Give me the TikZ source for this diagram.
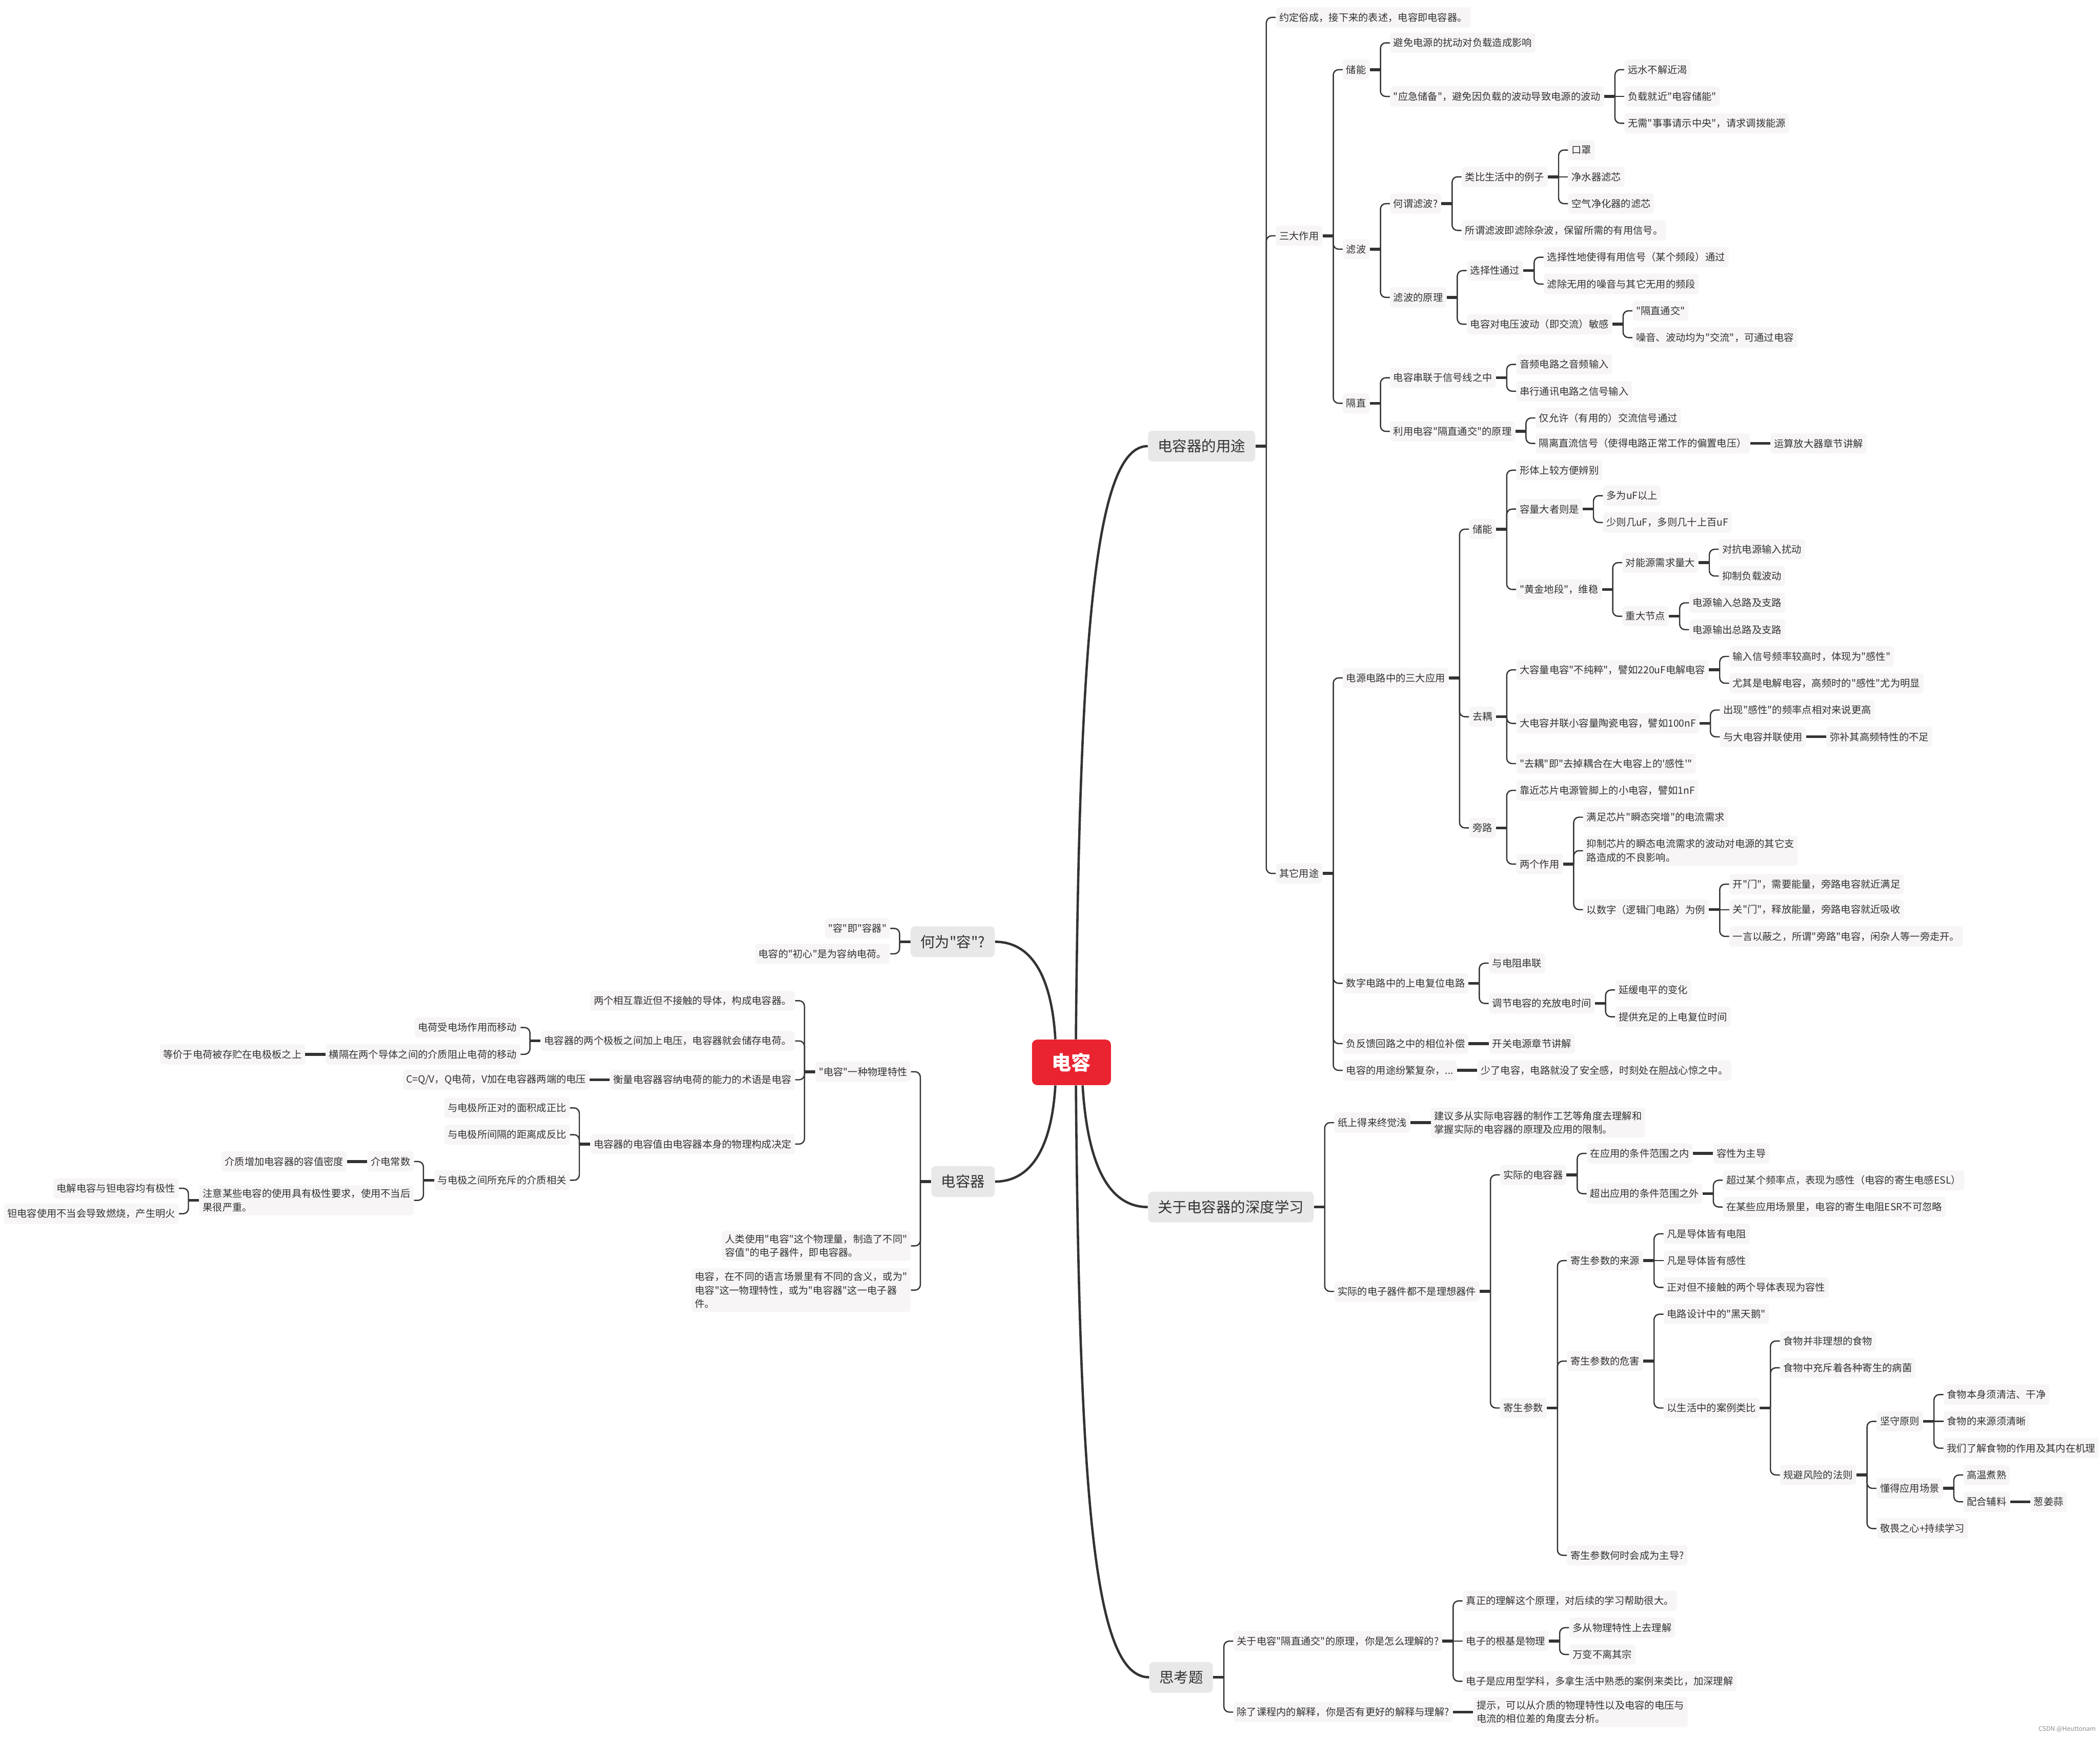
\documentclass[tikz,border=0pt]{standalone}
\usepackage{fontspec}
\setmainfont{Noto Sans CJK SC}[Ligatures=TeXOff]
\definecolor{leafc}{HTML}{F7F5F5}
\definecolor{mainc}{HTML}{E8E8E8}
\definecolor{linec}{HTML}{333333}
\definecolor{txt}{HTML}{333333}
\definecolor{rootc}{HTML}{E92430}
\tikzset{
  leaf/.style={fill=leafc, rounded corners=0.06cm, inner xsep=0.075cm, inner ysep=0.08cm,
    minimum height=0.45cm, font=\fontsize{6.3}{8.6}\selectfont, text=txt, align=left},
  mainb/.style={fill=mainc, rounded corners=0.1cm, inner xsep=0.22cm, inner ysep=0pt,
    minimum height=0.69cm, font=\fontsize{9.3}{11}\selectfont, text=txt},
  rootn/.style={fill=rootc, rounded corners=0.12cm, minimum width=1.77cm, minimum height=1.02cm,
    font=\fontsize{12.5}{14}\selectfont\bfseries, text=white},
  conn/.style={draw=linec, line width=0.8pt, rounded corners=0.12cm},
  stub/.style={draw=linec, line width=1.8pt},
  rootln/.style={draw=linec, line width=1.5pt},
}
\newcommand\kidR[4]{\node[leaf,anchor=west,xshift=0.45cm] (#1) at (#2.east |- 0,#3) {#4};}
\newcommand\kidL[4]{\node[leaf,anchor=east,xshift=-0.45cm] (#1) at (#2.west |- 0,#3) {#4};}
\newcommand\linkR[2]{\draw[stub] (#1.east) -- ++(0.24cm,0) coordinate (#1t);
  \foreach \kk in {#2}{\draw[conn] (#1t) |- (\kk.west);}}
\newcommand\linkRm[2]{\draw[conn] (#1t) -- (#2.west);}
\newcommand\linkL[2]{\draw[stub] (#1.west) -- ++(-0.24cm,0) coordinate (#1t);
  \foreach \kk in {#2}{\draw[conn] (#1t) |- (\kk.east);}}
\newcommand\linkS[2]{\draw[stub] (#1.east) -- (#2.west);}
\newcommand\linkSL[2]{\draw[stub] (#1.west) -- (#2.east);}
\begin{document}
\begin{tikzpicture}[x=0.03cm,y=-0.03cm]
\useasboundingbox (0,0) rectangle (1568,1297);

\node[rootn] (R) at (800,793) {电容};

% ---------------- main branches
\node[mainb,anchor=west] (U) at (857,333) {电容器的用途};
\node[mainb,anchor=west] (D) at (857,901) {关于电容器的深度学习};
\node[mainb,anchor=west] (T) at (858,1252) {思考题};
\node[mainb,anchor=east] (H) at (743,703) {何为"容"?};
\node[mainb,anchor=east] (Q) at (743,882) {电容器};

\draw[rootln] ([xshift=0.1cm]R.north) .. controls (806,470) and (818,333) .. (U.west);
\draw[rootln] ([xshift=0.25cm]R.south) .. controls (812,870) and (828,901) .. (D.west);
\draw[rootln] ([xshift=0.1cm]R.south) .. controls (806,1130) and (818,1252) .. (T.west);
\draw[rootln] ([xshift=-0.36cm]R.north) .. controls (785,725) and (768,703) .. (H.east);
\draw[rootln] ([xshift=-0.36cm]R.south) .. controls (785,860) and (768,882) .. (Q.east);

% ---------------- 电容器的用途
\kidR{U1}{U}{13}{约定俗成，接下来的表述，电容即电容器。}
\kidR{U2}{U}{176}{三大作用}
\kidR{U3}{U}{652}{其它用途}
\linkR{U}{U1,U2,U3}
\kidR{S1}{U2}{52}{储能}
\kidR{S2}{U2}{186}{滤波}
\kidR{S3}{U2}{301}{隔直}
\linkR{U2}{S1,S2,S3}
\kidR{S11}{S1}{32}{避免电源的扰动对负载造成影响}
\kidR{S12}{S1}{72}{"应急储备"，避免因负载的波动导致电源的波动}
\linkR{S1}{S11,S12}
\kidR{S121}{S12}{52}{远水不解近渴}
\kidR{S122}{S12}{72}{负载就近"电容储能"}
\kidR{S123}{S12}{92}{无需"事事请示中央"，请求调拨能源}
\linkR{S12}{S121,S123}
\linkRm{S12}{S122}
\kidR{S21}{S2}{152}{何谓滤波?}
\kidR{S22}{S2}{222}{滤波的原理}
\linkR{S2}{S21,S22}
\kidR{S211}{S21}{132}{类比生活中的例子}
\kidR{S212}{S21}{172}{所谓滤波即滤除杂波，保留所需的有用信号。}
\linkR{S21}{S211,S212}
\kidR{S2111}{S211}{112}{口罩}
\kidR{S2112}{S211}{132}{净水器滤芯}
\kidR{S2113}{S211}{152}{空气净化器的滤芯}
\linkR{S211}{S2111,S2113}
\linkRm{S211}{S2112}
\kidR{S221}{S22}{202}{选择性通过}
\kidR{S222}{S22}{242}{电容对电压波动（即交流）敏感}
\linkR{S22}{S221,S222}
\kidR{S2211}{S221}{192}{选择性地使得有用信号（某个频段）通过}
\kidR{S2212}{S221}{212}{滤除无用的噪音与其它无用的频段}
\linkR{S221}{S2211,S2212}
\kidR{S2221}{S222}{232}{"隔直通交"}
\kidR{S2222}{S222}{252}{噪音、波动均为"交流"，可通过电容}
\linkR{S222}{S2221,S2222}
\kidR{S31}{S3}{282}{电容串联于信号线之中}
\kidR{S32}{S3}{322}{利用电容"隔直通交"的原理}
\linkR{S3}{S31,S32}
\kidR{S311}{S31}{272}{音频电路之音频输入}
\kidR{S312}{S31}{292}{串行通讯电路之信号输入}
\linkR{S31}{S311,S312}
\kidR{S321}{S32}{312}{仅允许（有用的）交流信号通过}
\kidR{S322}{S32}{331}{隔离直流信号（使得电路正常工作的偏置电压）}
\linkR{S32}{S321,S322}
\kidR{S3221}{S322}{331}{运算放大器章节讲解}
\linkS{S322}{S3221}

\kidR{O1}{U3}{506}{电源电路中的三大应用}
\kidR{O2}{U3}{734}{数字电路中的上电复位电路}
\kidR{O3}{U3}{779}{负反馈回路之中的相位补偿}
\kidR{O4}{U3}{799}{电容的用途纷繁复杂，...}
\linkR{U3}{O1,O2,O3,O4}
\kidR{O31}{O3}{779}{开关电源章节讲解}
\linkS{O3}{O31}
\kidR{O41}{O4}{799}{少了电容，电路就没了安全感，时刻处在胆战心惊之中。}
\linkS{O4}{O41}

\kidR{P1}{O1}{395}{储能}
\kidR{P2}{O1}{535}{去耦}
\kidR{P3}{O1}{618}{旁路}
\linkR{O1}{P1,P2,P3}
\kidR{P11}{P1}{351}{形体上较方便辨别}
\kidR{P12}{P1}{380}{容量大者则是}
\kidR{P13}{P1}{440}{"黄金地段"，维稳}
\linkR{P1}{P11,P12,P13}
\kidR{P121}{P12}{370}{多为uF以上}
\kidR{P122}{P12}{390}{少则几uF，多则几十上百uF}
\linkR{P12}{P121,P122}
\kidR{P131}{P13}{420}{对能源需求量大}
\kidR{P132}{P13}{460}{重大节点}
\linkR{P13}{P131,P132}
\kidR{P1311}{P131}{410}{对抗电源输入扰动}
\kidR{P1312}{P131}{430}{抑制负载波动}
\linkR{P131}{P1311,P1312}
\kidR{P1321}{P132}{450}{电源输入总路及支路}
\kidR{P1322}{P132}{470}{电源输出总路及支路}
\linkR{P132}{P1321,P1322}
\kidR{P21}{P2}{500}{大容量电容"不纯粹"，譬如220uF电解电容}
\kidR{P22}{P2}{540}{大电容并联小容量陶瓷电容，譬如100nF}
\kidR{P23}{P2}{570}{"去耦"即"去掉耦合在大电容上的'感性'"}
\linkR{P2}{P21,P22,P23}
\kidR{P211}{P21}{490}{输入信号频率较高时，体现为"感性"}
\kidR{P212}{P21}{510}{尤其是电解电容，高频时的"感性"尤为明显}
\linkR{P21}{P211,P212}
\kidR{P221}{P22}{530}{出现"感性"的频率点相对来说更高}
\kidR{P222}{P22}{550}{与大电容并联使用}
\linkR{P22}{P221,P222}
\kidR{P2221}{P222}{550}{弥补其高频特性的不足}
\linkS{P222}{P2221}
\kidR{P31}{P3}{590}{靠近芯片电源管脚上的小电容，譬如1nF}
\kidR{P32}{P3}{645}{两个作用}
\linkR{P3}{P31,P32}
\kidR{P321}{P32}{610}{满足芯片"瞬态突增"的电流需求}
\kidR{P322}{P32}{635}{抑制芯片的瞬态电流需求的波动对电源的其它支\\路造成的不良影响。}
\kidR{P323}{P32}{679}{以数字（逻辑门电路）为例}
\linkR{P32}{P321,P322,P323}
\kidR{P3231}{P323}{660}{开"门"，需要能量，旁路电容就近满足}
\kidR{P3232}{P323}{679}{关"门"，释放能量，旁路电容就近吸收}
\kidR{P3233}{P323}{699}{一言以蔽之，所谓"旁路"电容，闲杂人等一旁走开。}
\linkR{P323}{P3231,P3233}
\linkRm{P323}{P3232}
\kidR{O21}{O2}{719}{与电阻串联}
\kidR{O22}{O2}{749}{调节电容的充放电时间}
\linkR{O2}{O21,O22}
\kidR{O221}{O22}{739}{延缓电平的变化}
\kidR{O222}{O22}{759}{提供充足的上电复位时间}
\linkR{O22}{O221,O222}

% ---------------- 关于电容器的深度学习
\kidR{D1}{D}{838}{纸上得来终觉浅}
\kidR{D2}{D}{964}{实际的电子器件都不是理想器件}
\linkR{D}{D1,D2}
\kidR{D11}{D1}{838}{建议多从实际电容器的制作工艺等角度去理解和\\掌握实际的电容器的原理及应用的限制。}
\linkS{D1}{D11}
\kidR{D21}{D2}{877}{实际的电容器}
\kidR{D22}{D2}{1051}{寄生参数}
\linkR{D2}{D21,D22}
\kidR{D211}{D21}{861}{在应用的条件范围之内}
\kidR{D212}{D21}{891}{超出应用的条件范围之外}
\linkR{D21}{D211,D212}
\kidR{D2111}{D211}{861}{容性为主导}
\linkS{D211}{D2111}
\kidR{D2121}{D212}{881}{超过某个频率点，表现为感性（电容的寄生电感ESL）}
\kidR{D2122}{D212}{901}{在某些应用场景里，电容的寄生电阻ESR不可忽略}
\linkR{D212}{D2121,D2122}
\kidR{E1}{D22}{941}{寄生参数的来源}
\kidR{E2}{D22}{1016}{寄生参数的危害}
\kidR{E3}{D22}{1161}{寄生参数何时会成为主导?}
\linkR{D22}{E1,E2,E3}
\kidR{E11}{E1}{921}{凡是导体皆有电阻}
\kidR{E12}{E1}{941}{凡是导体皆有感性}
\kidR{E13}{E1}{961}{正对但不接触的两个导体表现为容性}
\linkR{E1}{E11,E13}
\linkRm{E1}{E12}
\kidR{E21}{E2}{981}{电路设计中的"黑天鹅"}
\kidR{E22}{E2}{1051}{以生活中的案例类比}
\linkR{E2}{E21,E22}
\kidR{F1}{E22}{1001}{食物并非理想的食物}
\kidR{F2}{E22}{1021}{食物中充斥着各种寄生的病菌}
\kidR{F3}{E22}{1101}{规避风险的法则}
\linkR{E22}{F1,F2,F3}
\kidR{G1}{F3}{1061}{坚守原则}
\kidR{G2}{F3}{1111}{懂得应用场景}
\kidR{G3}{F3}{1141}{敬畏之心+持续学习}
\linkR{F3}{G1,G2,G3}
\kidR{G11}{G1}{1041}{食物本身须清洁、干净}
\kidR{G12}{G1}{1061}{食物的来源须清晰}
\kidR{G13}{G1}{1081}{我们了解食物的作用及其内在机理}
\linkR{G1}{G11,G13}
\linkRm{G1}{G12}
\kidR{G21}{G2}{1101}{高温煮熟}
\kidR{G22}{G2}{1121}{配合辅料}
\linkR{G2}{G21,G22}
\kidR{G221}{G22}{1121}{葱姜蒜}
\linkS{G22}{G221}

% ---------------- 思考题
\kidR{T1}{T}{1225}{关于电容"隔直通交"的原理，你是怎么理解的?}
\kidR{T2}{T}{1278}{除了课程内的解释，你是否有更好的解释与理解?}
\linkR{T}{T1,T2}
\kidR{T11}{T1}{1195}{真正的理解这个原理，对后续的学习帮助很大。}
\kidR{T12}{T1}{1225}{电子的根基是物理}
\kidR{T13}{T1}{1255}{电子是应用型学科，多拿生活中熟悉的案例来类比，加深理解}
\linkR{T1}{T11,T13}
\linkRm{T1}{T12}
\kidR{T121}{T12}{1215}{多从物理特性上去理解}
\kidR{T122}{T12}{1235}{万变不离其宗}
\linkR{T12}{T121,T122}
\kidR{T21}{T2}{1278}{提示，可以从介质的物理特性以及电容的电压与\\电流的相位差的角度去分析。}
\linkS{T2}{T21}

% ---------------- 何为"容"?
\kidL{H1}{H}{693}{"容"即"容器"}
\kidL{H2}{H}{712}{电容的"初心"是为容纳电荷。}
\linkL{H}{H1,H2}

% ---------------- 电容器
\kidL{Q1}{Q}{800}{"电容"一种物理特性}
\kidL{Q2}{Q}{930}{人类使用"电容"这个物理量，制造了不同"\\容值"的电子器件，即电容器。}
\kidL{Q3}{Q}{963}{电容，在不同的语言场景里有不同的含义，或为"\\电容"这一物理特性，或为"电容器"这一电子器\\件。}
\linkL{Q}{Q1,Q2,Q3}
\kidL{Q11}{Q1}{747}{两个相互靠近但不接触的导体，构成电容器。}
\kidL{Q12}{Q1}{777}{电容器的两个极板之间加上电压，电容器就会储存电荷。}
\kidL{Q13}{Q1}{806}{衡量电容器容纳电荷的能力的术语是电容}
\kidL{Q14}{Q1}{854}{电容器的电容值由电容器本身的物理构成决定}
\linkL{Q1}{Q11,Q12,Q13,Q14}
\kidL{Q121}{Q12}{767}{电荷受电场作用而移动}
\kidL{Q122}{Q12}{787}{横隔在两个导体之间的介质阻止电荷的移动}
\linkL{Q12}{Q121,Q122}
\kidL{Q1221}{Q122}{787}{等价于电荷被存贮在电极板之上}
\linkSL{Q122}{Q1221}
\kidL{Q131}{Q13}{806}{C=Q/V，Q电荷，V加在电容器两端的电压}
\linkSL{Q13}{Q131}
\kidL{Q141}{Q14}{827}{与电极所正对的面积成正比}
\kidL{Q142}{Q14}{847}{与电极所间隔的距离成反比}
\kidL{Q143}{Q14}{881}{与电极之间所充斥的介质相关}
\linkL{Q14}{Q141,Q142,Q143}
\kidL{Q1431}{Q143}{867}{介电常数}
\kidL{Q1432}{Q143}{896}{注意某些电容的使用具有极性要求，使用不当后\\果很严重。}
\linkL{Q143}{Q1431,Q1432}
\kidL{Q14311}{Q1431}{867}{介质增加电容器的容值密度}
\linkSL{Q1431}{Q14311}
\kidL{Q14321}{Q1432}{887}{电解电容与钽电容均有极性}
\kidL{Q14322}{Q1432}{906}{钽电容使用不当会导致燃烧，产生明火}
\linkL{Q1432}{Q14321,Q14322}

\node[anchor=east, inner sep=0pt, font=\fontsize{4}{5}\selectfont, text=black!45] (wm) at (1565,1291) {CSDN @Heuttonam};
\end{tikzpicture}
\end{document}
